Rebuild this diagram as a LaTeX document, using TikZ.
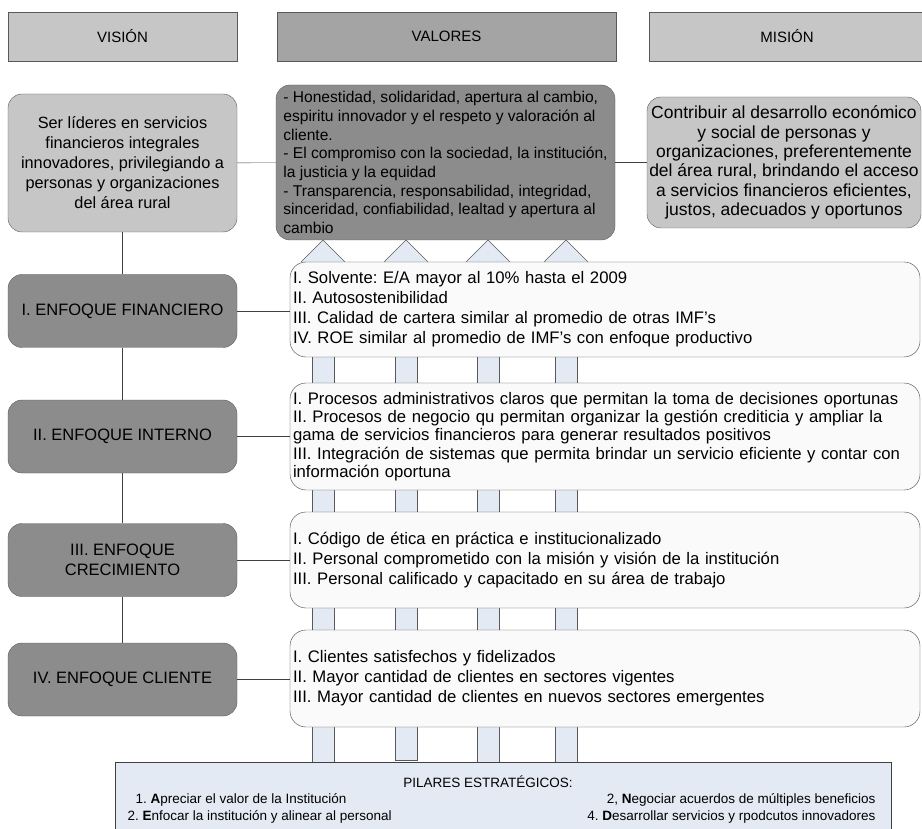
\documentclass[tikz,border=0pt]{standalone}
\usepackage{fontspec}
\setmainfont{Liberation Sans}
\usetikzlibrary{positioning}
\frenchspacing
\definecolor{pillar}{HTML}{E4EAF4}
\definecolor{lightpat}{HTML}{C6C6C6}
\definecolor{midpat}{HTML}{A4A4A4}
\definecolor{darkpat}{HTML}{8C8C8C}
\definecolor{goalfill}{HTML}{FAFAFA}
\begin{document}
\begin{tikzpicture}[
			x=1pt, y=-1pt,
			head/.style = {draw=black!65, minimum height=49pt, inner sep=0pt, font=\fontsize{15}{18}\selectfont},
			main/.style = {draw=black!65, rounded corners=14pt, align=center, inner sep=2pt},
			goal/.style = {draw=black!75, fill=goalfill, rounded corners=16pt, minimum width=630pt, text width=624pt, align=left, inner sep=3pt, font=\fontsize{16.7}{20}\selectfont},
			pilar/.style = {font=\fontsize{13.5}{15}\selectfont},
			bar/.style = {fill=pillar, draw=black!65},
			link/.style = {draw=black!75}
		]
		\useasboundingbox (0,0) rectangle (922,829);
		% Pillars behind the boxes.
		\foreach \px in {323,488,566} {
			\draw[bar] (\px-11,262) rectangle (\px+11,762);
		}
		\draw[bar] (395,262) rectangle (417,760);
		\foreach \px in {323,406,488,566} {
			\draw[bar] (\px-22,262) -- (\px,240) -- (\px+22,262);
		}
		% Headers.
		\node[head, fill=lightpat, minimum width=229pt] (hvis) at (122.5,36.5) {VISIÓN};
		\node[head, fill=midpat, minimum width=339pt] (hval) at (446.5,36.5) {VALORES};
		\node[head, fill=lightpat, minimum width=276pt] (hmis) at (787,36.5) {MISIÓN};
		% Top row.
		\node[main, fill=lightpat, minimum width=229pt, minimum height=138pt,
			font=\fontsize{16.3}{20}\selectfont] (vis) at (122.5,163)
			{Ser líderes en servicios\\financieros integrales\\innovadores, privilegiando a\\personas y organizaciones\\del área rural};
		\node[main, fill=darkpat, minimum width=339pt, minimum height=155pt,
			align=left, font=\fontsize{15.6}{18.7}\selectfont] (val) at (445.5,162.5)
			{- Honestidad, solidaridad, apertura al cambio,\\espiritu innovador y el respeto y valoración al\\cliente.\\- El compromiso con la sociedad, la institución,\\la justicia y la equidad\\- Transparencia, responsabilidad, integridad,\\sinceridad, confiabilidad, lealtad y apertura al\\cambio};
		\node[main, fill=lightpat, minimum width=274pt, minimum height=131pt,
			font=\fontsize{17.5}{19.3}\selectfont] (mis) at (784,162.5)
			{Contribuir al desarrollo económico\\y social de personas y\\organizaciones, preferentemente\\del área rural, brindando el acceso\\a servicios financieros eficientes,\\justos, adecuados y oportunos};
		% Focus boxes.
		\node[main, fill=darkpat, minimum width=229pt, minimum height=73pt,
			font=\fontsize{16.5}{20}\selectfont] (e1) at (122.5,311) {I. ENFOQUE FINANCIERO};
		\node[main, fill=darkpat, minimum width=229pt, minimum height=73pt,
			font=\fontsize{16.5}{20}\selectfont] (e2) at (122.5,436.5) {II. ENFOQUE INTERNO};
		\node[main, fill=darkpat, minimum width=229pt, minimum height=73pt,
			font=\fontsize{16.5}{20}\selectfont] (e3) at (122.5,560) {III. ENFOQUE\\CRECIMIENTO};
		\node[main, fill=darkpat, minimum width=229pt, minimum height=73pt,
			font=\fontsize{16.5}{20}\selectfont] (e4) at (122.5,679.5) {IV. ENFOQUE CLIENTE};
		% Goals.
		\node[goal, minimum height=95pt] (g1) at (605,309.5)
			{I. Solvente: E/A mayor al 10\% hasta el 2009\\II. Autosostenibilidad\\III. Calidad de cartera similar al promedio de otras IMF’s\\IV. ROE similar al promedio de IMF’s con enfoque productivo};
		\node[goal, minimum height=107pt, font=\fontsize{16.7}{18.3}\selectfont] (g2) at (605,436.5)
			{I. Procesos administrativos claros que permitan la toma de decisiones oportunas\\II. Procesos de negocio qu permitan organizar la gestión crediticia y ampliar la\\gama de servicios financieros para generar resultados positivos\\III. Integración de sistemas que permita brindar un servicio eficiente y contar con\\información oportuna};
		\node[goal, minimum height=96pt] (g3) at (605,560)
			{I. Código de ética en práctica e institucionalizado\\II. Personal comprometido con la misión y visión de la institución\\III. Personal calificado y capacitado en su área de trabajo};
		\node[goal, minimum height=97pt] (g4) at (605,678.5)
			{I. Clientes satisfechos y fidelizados\\II. Mayor cantidad de clientes en sectores vigentes\\III. Mayor cantidad de clientes en nuevos sectores emergentes};
		% Pillars base.
		\node[draw=black!75, fill=pillar, minimum width=776pt, minimum height=70pt] (pil) at (503,797) {};
		\node[pilar] (ptit) at (488,782) {PILARES ESTRATÉGICOS:};
		\node[pilar, anchor=west] (p1) at (132,800) {1. \textbf{A}preciar el valor de la Institución};
		\node[pilar, anchor=west] (p2) at (124,817) {2. \textbf{E}nfocar la institución y alinear al personal};
		\node[pilar, anchor=east] (p3) at (879,800) {2, \textbf{N}egociar acuerdos de múltiples beneficios};
		\node[pilar, anchor=east] (p4) at (879,817) {4. \textbf{D}esarrollar servicios y rpodcutos innovadores};
		% Links.
		\draw[link] (vis) -- (val);
		\draw[link] (val) -- (mis);
		\draw[link] (vis) -- (e1);
		\draw[link] (e1) -- (e2);
		\draw[link] (e2) -- (e3);
		\draw[link] (e3) -- (e4);
		\draw[link] (e1.east) -- (e1.east -| g1.west);
		\draw[link] (e2.east) -- (e2.east -| g2.west);
		\draw[link] (e3.east) -- (e3.east -| g3.west);
		\draw[link] (e4.east) -- (e4.east -| g4.west);
	\end{tikzpicture}
\end{document}
